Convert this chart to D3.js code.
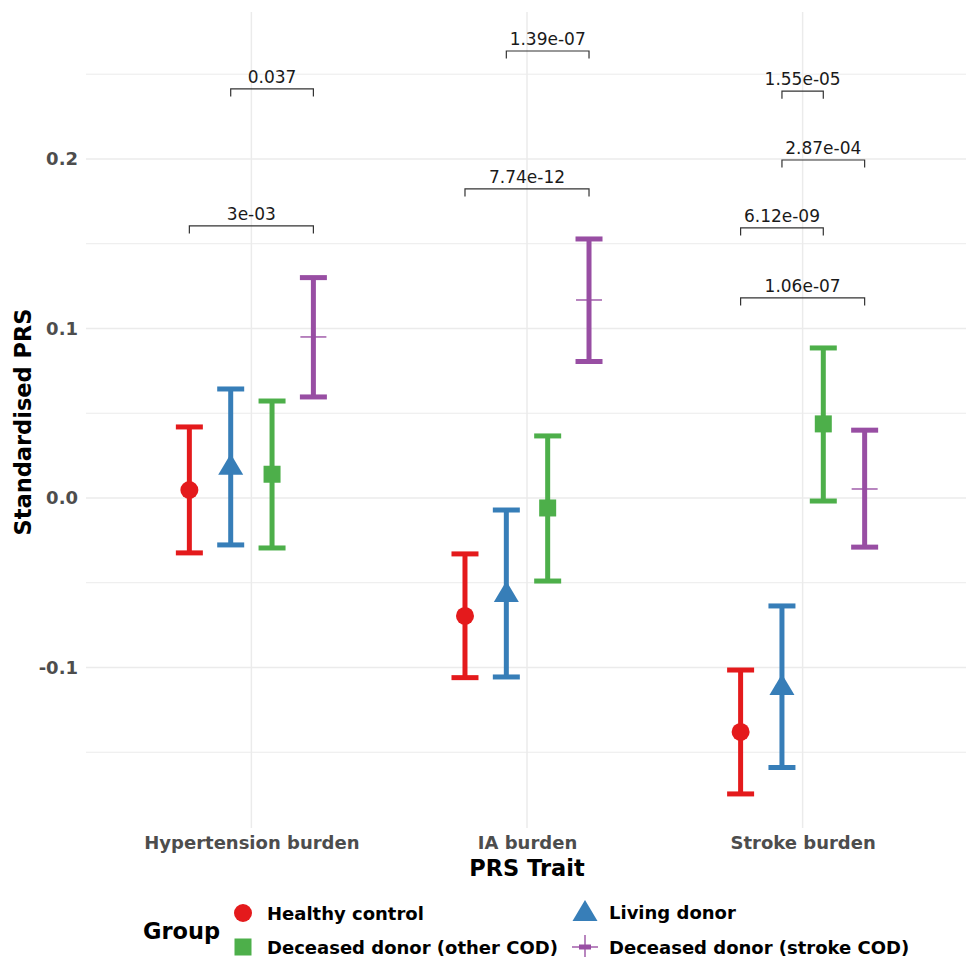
<!DOCTYPE html>
<html>
<head>
<meta charset="utf-8">
<script src="https://cdn.jsdelivr.net/npm/d3@7"></script>
<style>
  html, body { margin: 0; padding: 0; background: #fff; }
  text { font-family: "DejaVu Sans", sans-serif; }
</style>
</head>
<body>
<div id="chart"></div>
<script>
// 数据
const traits = ["Hypertension burden", "IA burden", "Stroke burden"];
const groups = ["Healthy control", "Living donor", "Deceased donor (other COD)", "Deceased donor (stroke COD)"];
const groupColors = ["#E41A1C", "#377EB8", "#4DAF4A", "#984EA3"];
const groupShapes = ["circle", "triangle", "square", "plus"];

// 每组的均值和置信区间（按 traits 顺序）
const meanValues = {
  "Healthy control":             [0.0047, -0.0696, -0.1380],
  "Living donor":                [0.0190, -0.0560, -0.1110],
  "Deceased donor (other COD)":  [0.0140, -0.0059,  0.0437],
  "Deceased donor (stroke COD)": [0.0950,  0.1168,  0.0053]
};
const lowerValues = {
  "Healthy control":             [-0.0324, -0.1060, -0.1746],
  "Living donor":                [-0.0277, -0.1056, -0.1590],
  "Deceased donor (other COD)":  [-0.0295, -0.0490, -0.0018],
  "Deceased donor (stroke COD)": [ 0.0596,  0.0805, -0.0290]
};
const upperValues = {
  "Healthy control":             [0.0419, -0.0330, -0.1015],
  "Living donor":                [0.0643, -0.0071, -0.0637],
  "Deceased donor (other COD)":  [0.0572,  0.0366,  0.0885],
  "Deceased donor (stroke COD)": [0.1300,  0.1528,  0.0400]
};

// 显著性标注
const bracketTrait = ["Hypertension burden", "Hypertension burden", "IA burden", "IA burden",
                      "Stroke burden", "Stroke burden", "Stroke burden", "Stroke burden"];
const bracketFrom  = [0, 1, 0, 1, 0, 0, 1, 1];
const bracketTo    = [3, 3, 3, 3, 3, 2, 3, 2];
const bracketY     = [0.1605, 0.2413, 0.1823, 0.2637, 0.1180, 0.1593, 0.1994, 0.2400];
const bracketLabel = ["3e-03", "0.037", "7.74e-12", "1.39e-07", "1.06e-07", "6.12e-09", "2.87e-04", "1.55e-05"];

const yTicks = [-0.1, 0.0, 0.1, 0.2];
const yMinor = [-0.15, -0.05, 0.05, 0.15, 0.25];

// 尺寸
const W = 966, H = 957;
const panel = { left: 86, right: 968, top: 12, bottom: 828 };

const svg = d3.select("#chart").append("svg")
  .attr("width", W).attr("height", H);

// 比例尺
const x = d3.scalePoint().domain(traits).range([panel.left, panel.right]).padding(0.6);
const dodge = d3.scalePoint().domain(groups)
  .range([-0.225 * x.step(), 0.225 * x.step()]);
const y = d3.scaleLinear().domain([-0.1947, 0.2867]).range([panel.bottom, panel.top]);
const color = d3.scaleOrdinal().domain(groups).range(groupColors);
const shape = d3.scaleOrdinal().domain(groups).range(groupShapes);

// 网格线
const grid = svg.append("g");
grid.selectAll(".minor").data(yMinor).join("line")
  .attr("x1", panel.left).attr("x2", panel.right)
  .attr("y1", d => y(d)).attr("y2", d => y(d))
  .attr("stroke", "#ebebeb").attr("stroke-width", 1);
grid.selectAll(".major").data(yTicks).join("line")
  .attr("x1", panel.left).attr("x2", panel.right)
  .attr("y1", d => y(d)).attr("y2", d => y(d))
  .attr("stroke", "#ebebeb").attr("stroke-width", 1.5);
grid.selectAll(".vmajor").data(traits).join("line")
  .attr("x1", d => x(d)).attr("x2", d => x(d))
  .attr("y1", panel.top).attr("y2", panel.bottom)
  .attr("stroke", "#ebebeb").attr("stroke-width", 1.5);

// 坐标轴
const yAxis = d3.axisLeft(y).tickValues(yTicks).tickSize(0).tickPadding(8)
  .tickFormat(d => d3.format(".1f")(d).replace("−", "-"));
svg.append("g").attr("transform", `translate(${panel.left},0)`).call(yAxis)
  .call(g => g.select(".domain").remove())
  .selectAll("text")
  .attr("font-size", 18).attr("font-weight", "bold").attr("fill", "#4d4d4d")
  .attr("font-family", "DejaVu Sans");

const xAxis = d3.axisBottom(x).tickSize(0).tickPadding(8);
svg.append("g").attr("transform", `translate(0,${panel.bottom})`).call(xAxis)
  .call(g => g.select(".domain").remove())
  .selectAll("text")
  .attr("font-size", 18).attr("font-weight", "bold").attr("fill", "#4d4d4d")
  .attr("font-family", "DejaVu Sans");

svg.append("text")
  .attr("x", x("IA burden")).attr("y", 876)
  .attr("text-anchor", "middle").attr("font-size", 22.5).attr("font-weight", "bold")
  .text("PRS Trait");

svg.append("text")
  .attr("transform", `translate(31,${(panel.top + panel.bottom) / 2 + 2}) rotate(-90)`)
  .attr("text-anchor", "middle").attr("font-size", 22.5).attr("font-weight", "bold")
  .text("Standardised PRS");

// 整理点数据
const points = [];
groups.forEach(g => {
  traits.forEach((t, i) => {
    points.push({ trait: t, group: g, mean: meanValues[g][i], lo: lowerValues[g][i], hi: upperValues[g][i] });
  });
});

const px = d => x(d.trait) + dodge(d.group);
const capW = 13.5;

// 误差线
const eb = svg.append("g").selectAll("g").data(points).join("g")
  .attr("stroke", d => color(d.group)).attr("stroke-width", 5);
eb.append("line")
  .attr("x1", px).attr("x2", px)
  .attr("y1", d => y(d.lo)).attr("y2", d => y(d.hi));
eb.append("line")
  .attr("x1", d => px(d) - capW).attr("x2", d => px(d) + capW)
  .attr("y1", d => y(d.lo)).attr("y2", d => y(d.lo));
eb.append("line")
  .attr("x1", d => px(d) - capW).attr("x2", d => px(d) + capW)
  .attr("y1", d => y(d.hi)).attr("y2", d => y(d.hi));

// 点形状
function drawShape(sel, s, cx, cy, col, legend) {
  if (s === "circle") {
    sel.append("circle").attr("cx", cx).attr("cy", cy).attr("r", 9).attr("fill", col);
  } else if (s === "triangle") {
    sel.append("path")
      .attr("d", `M${cx},${cy - 12}L${cx + 12.5},${cy + 9}L${cx - 12.5},${cy + 9}Z`)
      .attr("fill", col);
  } else if (s === "square") {
    sel.append("rect").attr("x", cx - 8.5).attr("y", cy - 8.5)
      .attr("width", 17).attr("height", 17).attr("fill", col);
  } else {
    const g = sel.append("g").attr("stroke", col).attr("stroke-width", 1.6).attr("opacity", 0.85);
    g.append("line").attr("x1", cx - 13).attr("x2", cx + 13).attr("y1", cy).attr("y2", cy);
    g.append("line").attr("x1", cx).attr("x2", cx).attr("y1", cy - 12).attr("y2", cy + 12);
    if (legend) {
      sel.append("rect").attr("x", cx - 6).attr("y", cy - 2.5)
        .attr("width", 12).attr("height", 5).attr("fill", col);
    }
  }
}

const pts = svg.append("g");
points.forEach(d => drawShape(pts, shape(d.group), px(d), y(d.mean), color(d.group), false));

// 显著性括号
const br = svg.append("g");
bracketLabel.forEach((lab, i) => {
  const t = bracketTrait[i];
  const x1 = x(t) + dodge(groups[bracketFrom[i]]);
  const x2 = x(t) + dodge(groups[bracketTo[i]]);
  const yy = y(bracketY[i]);
  br.append("path")
    .attr("d", `M${x1},${yy + 7.5}V${yy}H${x2}V${yy + 7.5}`)
    .attr("fill", "none").attr("stroke", "#333").attr("stroke-width", 1.2);
  br.append("text")
    .attr("x", (x1 + x2) / 2).attr("y", yy - 6)
    .attr("text-anchor", "middle").attr("font-size", 17).attr("fill", "#1a1a1a")
    .text(lab);
});

// 图例
const legend = svg.append("g");
legend.append("text").attr("x", 143).attr("y", 939)
  .attr("font-size", 22.5).attr("font-weight", "bold").text("Group");
const legPos = [[243, 913], [585, 912], [243, 947], [585, 947]];
groups.forEach((g, i) => {
  const [lx, ly] = legPos[i];
  drawShape(legend, shape(g), lx, ly, color(g), true);
  legend.append("text").attr("x", lx + 24).attr("y", ly + 6.5)
    .attr("font-size", 18).attr("font-weight", "bold").text(g);
});
</script>
</body>
</html>
